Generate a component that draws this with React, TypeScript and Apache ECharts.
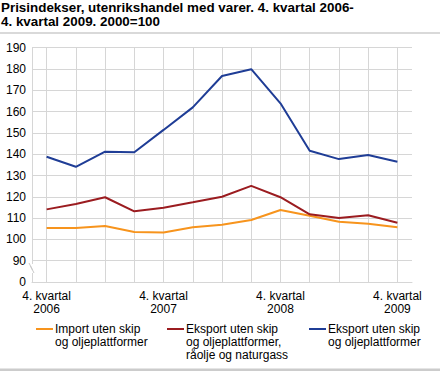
import React, { useEffect, useRef } from "react";
import * as echarts from "echarts";

const categories = [
  "4. kvartal\n2006", "1. kvartal\n2007", "2. kvartal\n2007", "3. kvartal\n2007",
  "4. kvartal\n2007", "1. kvartal\n2008", "2. kvartal\n2008", "3. kvartal\n2008",
  "4. kvartal\n2008", "1. kvartal\n2009", "2. kvartal\n2009", "3. kvartal\n2009",
  "4. kvartal\n2009",
];
const importValues = [105.3, 105.3, 106.3, 103.5, 103.2, 105.7, 106.9, 109.1, 113.8, 111.1, 108.3, 107.4, 105.7];
const eksportUtenRaolje = [114.1, 116.6, 119.8, 113.2, 114.9, 117.4, 120.0, 125.1, 119.8, 111.8, 110.0, 111.3, 107.8];
const eksportTotal = [138.8, 134.1, 141.2, 140.9, 151.4, 162.0, 176.7, 179.9, 163.9, 141.6, 137.7, 139.6, 136.5];
const seriesNames = [
  "Import uten skip\nog oljeplattformer",
  "Eksport uten skip\nog oljeplattformer,\nråolje og naturgass",
  "Eksport uten skip\nog oljeplattformer",
];
const seriesData = [importValues, eksportUtenRaolje, eksportTotal];
const colors = ["#f7941d", "#9b1c20", "#1f3d96"];
const titleText = "Prisindekser, utenrikshandel med varer. 4. kvartal 2006-\n4. kvartal 2009. 2000=100";
const yMin = 80;
const yMax = 190;
const yStep = 10;

const FONT = "'Liberation Sans', Arial, sans-serif";
const GRID = "#d6d6d6";

export default function App() {
  const ref = useRef<HTMLDivElement>(null);
  useEffect(() => {
    document.body.style.margin = "0";
    if (!ref.current) return;
    const chart = echarts.init(ref.current, undefined, { renderer: "svg" });
    const legendX = [36, 167, 309];
    const legendGraphics: any[] = [];
    seriesNames.forEach((name, i) => {
      legendGraphics.push({
        type: "line",
        z: 100,
        shape: { x1: legendX[i], y1: 329, x2: legendX[i] + 17, y2: 329 },
        style: { stroke: colors[i], lineWidth: 2 },
      });
      legendGraphics.push({
        type: "text",
        z: 100,
        x: legendX[i] + 19,
        y: 322.5,
        style: {
          text: name,
          font: `12px ${FONT}`,
          fill: "#000",
          lineHeight: 13,
          textVerticalAlign: "top",
        },
      });
    });
    chart.setOption({
      animation: false,
      textStyle: { fontFamily: FONT },
      title: {
        text: titleText,
        left: 1,
        top: 1,
        padding: 0,
        textStyle: { fontSize: 13.4, fontWeight: "bold", color: "#000", lineHeight: 13.5, fontFamily: FONT },
      },
      grid: { left: 32, right: 28, top: 47.7, bottom: 89, containLabel: false },
      xAxis: {
        type: "category",
        data: categories,
        boundaryGap: true,
        axisLine: { show: true, lineStyle: { color: GRID, width: 1 } },
        axisTick: { show: false },
        splitLine: { show: true, alignWithLabel: true, interval: 0, lineStyle: { color: GRID, width: 1 } },
        axisLabel: {
          interval: 3,
          margin: 7,
          color: "#000",
          fontSize: 12,
          lineHeight: 13,
          fontFamily: FONT,
        },
      },
      yAxis: {
        type: "value",
        min: yMin,
        max: yMax,
        interval: yStep,
        axisLine: { show: true, lineStyle: { color: GRID, width: 1 } },
        axisTick: { show: false },
        splitLine: { show: true, lineStyle: { color: GRID, width: 1 } },
        axisLabel: {
          margin: 6,
          color: "#000",
          fontSize: 12,
          fontFamily: FONT,
          formatter: (v: number) => (v === yMin ? "0" : String(v)),
        },
      },
      series: seriesData.map((d, i) => ({
        type: "line",
        name: seriesNames[i],
        data: d,
        symbol: "none",
        lineStyle: { color: colors[i], width: 2 },
        itemStyle: { color: colors[i] },
      })),
      graphic: [
        { type: "line", z: 100, shape: { x1: 0, y1: 33, x2: 440, y2: 33 }, style: { stroke: "#cccccc", lineWidth: 1.5 } },
        { type: "rect", z: 100, shape: { x: 0, y: 368.5, width: 440, height: 2.5 }, style: { fill: "#cccccc" } },
        { type: "rect", z: 99, shape: { x: 29, y: 264, width: 6, height: 9 }, style: { fill: "#ffffff" } },
        { type: "line", z: 100, shape: { x1: 29, y1: 263, x2: 32.5, y2: 270 }, style: { stroke: "#c8c8c8", lineWidth: 1 } },
        { type: "line", z: 100, shape: { x1: 30.5, y1: 266, x2: 34, y2: 273 }, style: { stroke: "#c8c8c8", lineWidth: 1 } },
        ...legendGraphics,
      ],
    });
    return () => chart.dispose();
  }, []);
  return <div ref={ref} style={{ width: 440, height: 371 }} />;
}
